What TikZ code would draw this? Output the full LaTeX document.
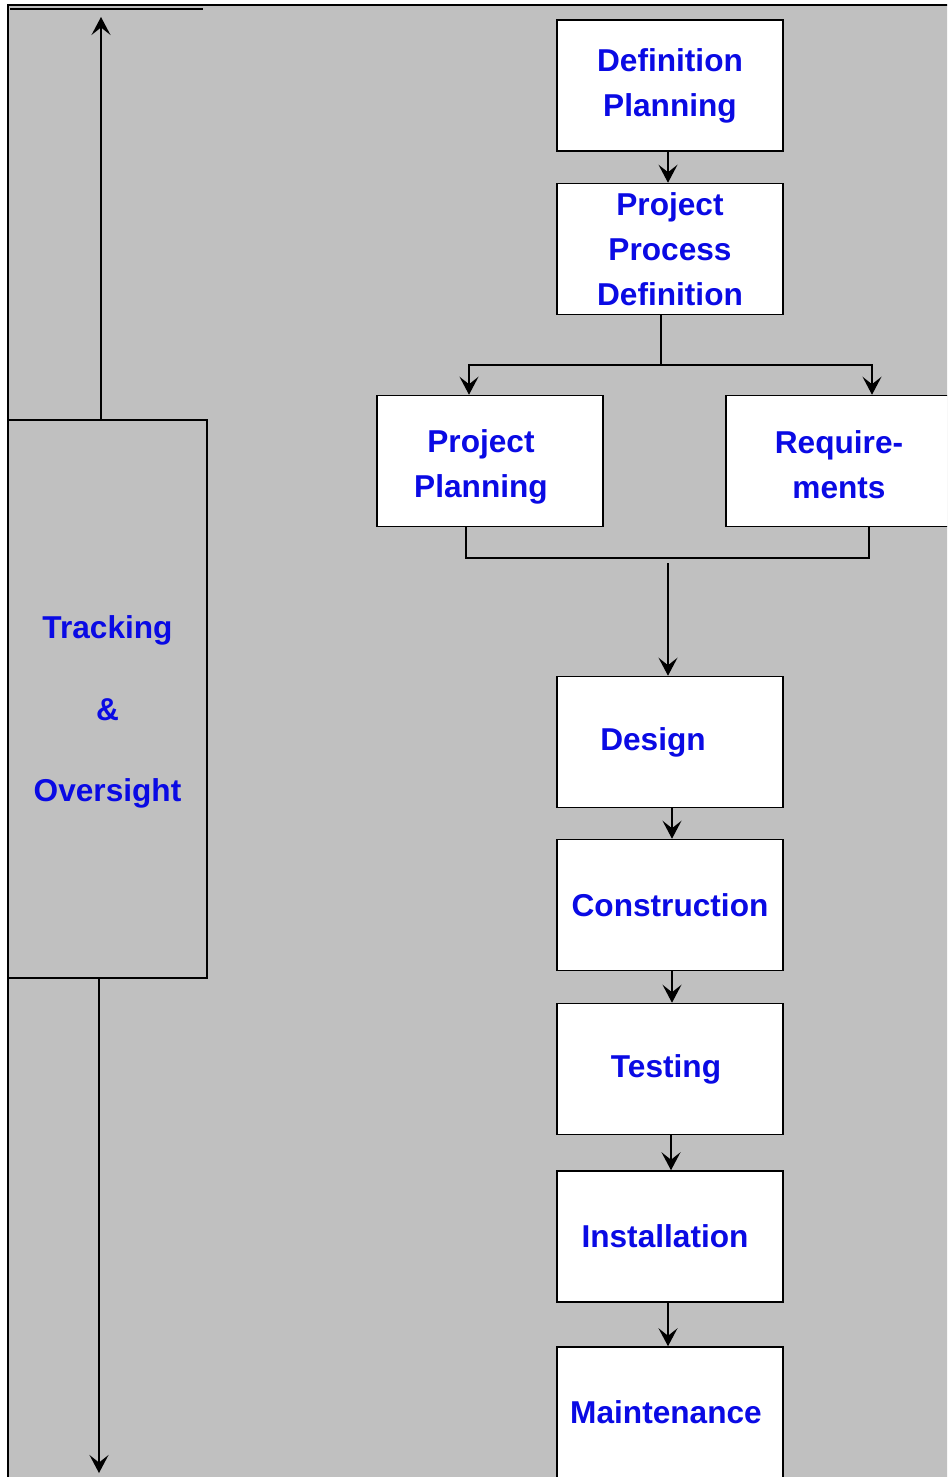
\documentclass[tikz,border=0pt]{standalone}
\usepackage{fontspec}
\setmainfont{Liberation Sans}
\usetikzlibrary{arrows.meta, calc}
\definecolor{panelc}{RGB}{192,192,192}
\definecolor{labelc}{RGB}{10,10,228}
\tikzset{
  stage/.style={
    rectangle, draw=black, fill=white, line width=0.9pt,
    minimum width=4.52cm, minimum height=2.62cm, inner sep=0pt,
    align=center, font=\fontsize{18}{25.5}\selectfont\bfseries, text=labelc
  },
  track/.style={stage, fill=panelc, minimum width=3.98cm, minimum height=11.16cm},
  tracktext/.style={align=center, font=\fontsize{18}{25.5}\selectfont\bfseries,
    text=labelc, yshift=-0.26cm},
  link/.style={line width=0.9pt},
  arr/.style={-{Stealth[length=3.6mm, width=3.8mm, inset=1.5mm]}, line width=0.9pt},
}

\begin{document}
\begin{tikzpicture}[x=0.02cm, y=-0.02cm]

  \clip (0,0) rectangle (947,1477);
  % grey panel behind everything
  \draw[line width=0.9pt, fill=panelc] (8,5) rectangle (980,1500);
  \draw[line width=1.2pt] (10,9) -- (203,9);

  \node[track, label={[tracktext]center:Tracking\\[21pt]\&\\[21pt]Oversight}] (track) at (107.5,699) {};
  \coordinate (tracktop) at (101,17);
  \coordinate (trackbot) at (99,1473);

  \node[stage] (defplan) at (670,85.5) {Definition\\Planning};
  \node[stage] (procdef) at (670,249) {Project\\Process\\Definition};
  \node[stage] (projplan) at (490,461) {\rule{0pt}{0.7cm}Project\kern0.36cm\\Planning\kern0.36cm};
  \node[stage] (reqs) at (839,461) {\rule{0pt}{0.62cm}Require-\\ments};
  \node[stage] (design) at (670,742) {Design\kern0.68cm};
  \node[stage] (constr) at (670,905) {Construction};
  \node[stage] (testing) at (670,1069) {Testing\kern0.16cm};
  \node[stage] (install) at (670,1236.5) {Installation\kern0.2cm};
  \node[stage] (maint) at (670,1412.5) {Maintenance\kern0.16cm};

  \draw[arr] ([xshift=-0.13cm]track.north) -- (tracktop);
  \draw[arr] ([xshift=-0.17cm]track.south) -- (trackbot);

  \draw[arr] ([xshift=-0.04cm]defplan.south) -- ([xshift=-0.04cm]procdef.north);

  \coordinate (fork) at (661,365);
  \draw[link] (procdef.south -| fork) -- (fork);
  \draw[arr] (fork) -| ([xshift=-0.42cm]projplan.north);
  \draw[arr] (fork) -| ([xshift=0.66cm]reqs.north);

  \coordinate (join) at (668,558);
  \draw[link] ([xshift=-0.48cm]projplan.south) |- (join) -| ([xshift=0.6cm]reqs.south);
  \coordinate (merge) at (668,563);
  \draw[arr] (merge) -- (merge |- design.north);

  \draw[arr] ([xshift=0.04cm]design.south) -- ([xshift=0.04cm]constr.north);
  \draw[arr] ([xshift=0.04cm]constr.south) -- ([xshift=0.04cm]testing.north);
  \draw[arr] ([xshift=0.02cm]testing.south) -- ([xshift=0.02cm]install.north);
  \draw[arr] ([xshift=-0.04cm]install.south) -- ([xshift=-0.04cm]maint.north);

\end{tikzpicture}
\end{document}
